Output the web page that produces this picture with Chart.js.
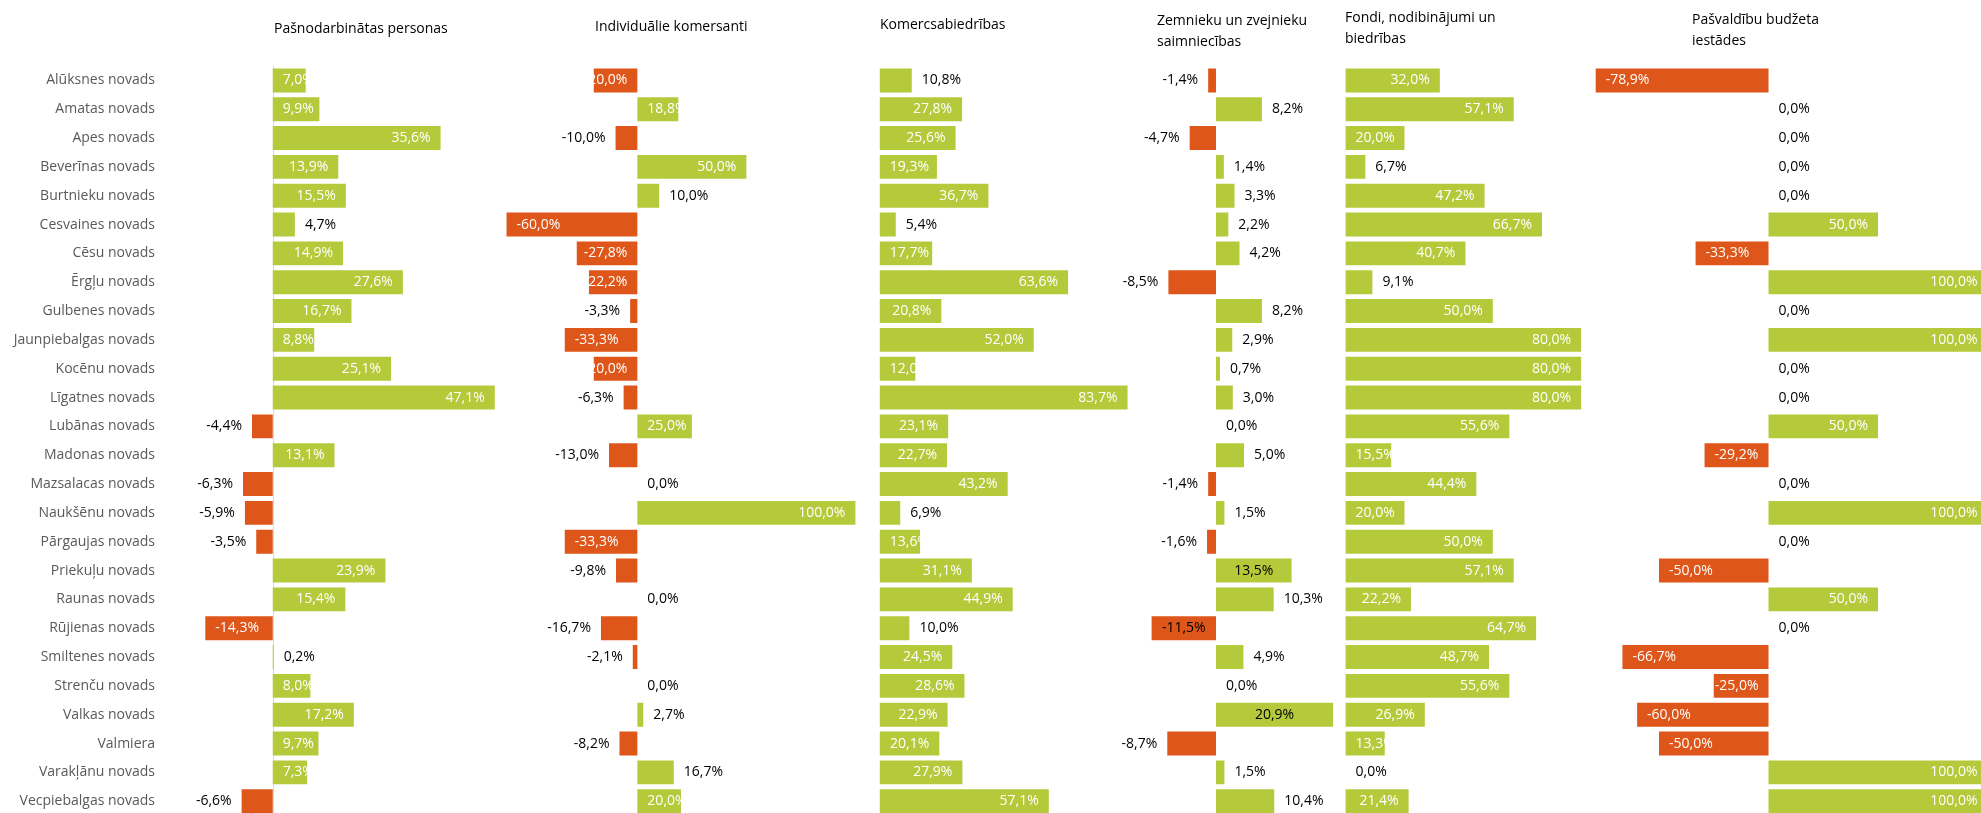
<!DOCTYPE html>
<html>
<head>
<meta charset="utf-8">
<title>Novadi</title>
<script src="https://cdn.jsdelivr.net/npm/chart.js@4.4.1/dist/chart.umd.min.js"></script>
<style>
  html, body { margin: 0; padding: 0; background: #ffffff; overflow: hidden; }
  #chart-container { position: relative; width: 2000px; height: 830px; }
  .panel-title {
    position: absolute;
    font-family: "Open Sans", sans-serif;
    font-size: 14px;
    line-height: 21px;
    color: #000000;
    white-space: nowrap;
  }
</style>
</head>
<body>
<div id="chart-container">
  <canvas id="myChart" width="2000" height="830"></canvas>
</div>
<script>
//--------------------- Data

var regions = ["Alūksnes novads", "Amatas novads", "Apes novads", "Beverīnas novads", "Burtnieku novads",
  "Cesvaines novads", "Cēsu novads", "Ērgļu novads", "Gulbenes novads", "Jaunpiebalgas novads",
  "Kocēnu novads", "Līgatnes novads", "Lubānas novads", "Madonas novads", "Mazsalacas novads",
  "Naukšēnu novads", "Pārgaujas novads", "Priekuļu novads", "Raunas novads", "Rūjienas novads",
  "Smiltenes novads", "Strenču novads", "Valkas novads", "Valmiera", "Varakļānu novads", "Vecpiebalgas novads"]

var panelTitles = [
  ["Pašnodarbinātas personas"],
  ["Individuālie komersanti"],
  ["Komercsabiedrības"],
  ["Zemnieku un zvejnieku", "saimniecības"],
  ["Fondi, nodibinājumi un", "biedrības"],
  ["Pašvaldību budžeta", "iestādes"]
]

var selfEmployed = [7.0, 9.9, 35.6, 13.9, 15.5, 4.7, 14.9, 27.6, 16.7, 8.8, 25.1, 47.1, -4.4,
  13.1, -6.3, -5.9, -3.5, 23.9, 15.4, -14.3, 0.2, 8.0, 17.2, 9.7, 7.3, -6.6]

var soleTraders = [-20.0, 18.8, -10.0, 50.0, 10.0, -60.0, -27.8, -22.2, -3.3, -33.3, -20.0, -6.3, 25.0,
  -13.0, 0.0, 100.0, -33.3, -9.8, 0.0, -16.7, -2.1, 0.0, 2.7, -8.2, 16.7, 20.0]

var companies = [10.8, 27.8, 25.6, 19.3, 36.7, 5.4, 17.7, 63.6, 20.8, 52.0, 12.0, 83.7, 23.1,
  22.7, 43.2, 6.9, 13.6, 31.1, 44.9, 10.0, 24.5, 28.6, 22.9, 20.1, 27.9, 57.1]

var farms = [-1.4, 8.2, -4.7, 1.4, 3.3, 2.2, 4.2, -8.5, 8.2, 2.9, 0.7, 3.0, 0.0,
  5.0, -1.4, 1.5, -1.6, 13.5, 10.3, -11.5, 4.9, 0.0, 20.9, -8.7, 1.5, 10.4]

var foundations = [32.0, 57.1, 20.0, 6.7, 47.2, 66.7, 40.7, 9.1, 50.0, 80.0, 80.0, 80.0, 55.6,
  15.5, 44.4, 20.0, 50.0, 57.1, 22.2, 64.7, 48.7, 55.6, 26.9, 13.3, 0.0, 21.4]

var municipal = [-78.9, 0.0, 0.0, 0.0, 0.0, 50.0, -33.3, 100.0, 0.0, 100.0, 0.0, 0.0, 50.0,
  -29.2, 0.0, 100.0, 0.0, -50.0, 50.0, 0.0, -66.7, -25.0, -60.0, -50.0, 100.0, 100.0]

var allSeries = [selfEmployed, soleTraders, companies, farms, foundations, municipal]

//--------------------- Look of each panel

var GREEN = "#b5ca3b"
var ORANGE = "#df561a"

//axis range, share of the width, where the value label goes, title placement
var panelStyles = [
  { min: -22, max: 48.2, weight: 331, insideFrom: 32, insideColor: "#ffffff", centered: false, titleLeft: 274, titleTop: 17 },
  { min: -63, max: 104.4, weight: 365, insideFrom: 37, insideColor: "#ffffff", centered: false, titleLeft: 595, titleTop: 15 },
  { min: -5, max: 85.2, weight: 267, insideFrom: 34, insideColor: "#ffffff", centered: false, titleLeft: 880, titleTop: 13 },
  { min: -15, max: 22.14, weight: 208, insideFrom: 60, insideColor: "#000000", centered: true, titleLeft: 1157, titleTop: 9 },
  { min: -1.9, max: 83, weight: 250, insideFrom: 34, insideColor: "#ffffff", centered: false, titleLeft: 1345, titleTop: 6 },
  { min: -81.5, max: 103.4, weight: 405, insideFrom: 30, insideColor: "#ffffff", centered: false, titleLeft: 1692, titleTop: 8 }
]

Chart.defaults.font.family = '"Open Sans", sans-serif'
Chart.defaults.font.size = 14

//--------------------- Titles above the panels

function createTitles() {
  var container = document.getElementById("chart-container")
  for (var i = 0; i < panelTitles.length; i++) {
    var title = document.createElement("div")
    title.classList.add("panel-title")
    title.style.left = panelStyles[i].titleLeft + "px"
    title.style.top = panelStyles[i].titleTop + "px"
    title.innerHTML = panelTitles[i].join("<br>")
    container.appendChild(title)
  }
}

//--------------------- Value labels like the spreadsheet ones

function formatValue(value) {
  return value.toFixed(1).replace(".", ",") + "%"
}

var valueLabels = {
  id: "valueLabels",
  beforeDatasetsDraw: function (chart) {
    //only the first panel shows its zero line
    var ctx = chart.ctx
    var x = Math.round(chart.scales.x1.getPixelForValue(0)) + 0.5
    ctx.save()
    ctx.strokeStyle = "#d9d9d9"
    ctx.lineWidth = 1
    ctx.beginPath()
    ctx.moveTo(x, chart.chartArea.top)
    ctx.lineTo(x, chart.chartArea.bottom)
    ctx.stroke()
    ctx.restore()
  },
  afterDatasetsDraw: function (chart) {
    var ctx = chart.ctx
    var pad = 10
    ctx.save()
    ctx.font = '14px "Open Sans", sans-serif'
    ctx.textBaseline = "middle"
    chart.data.datasets.forEach(function (dataset, d) {
      var meta = chart.getDatasetMeta(d)
      var style = panelStyles[d]
      meta.data.forEach(function (bar, i) {
        var value = dataset.data[i]
        var text = formatValue(value)
        var textWidth = ctx.measureText(text).width
        var length = Math.abs(bar.x - bar.base)
        var dir = value < 0 ? -1 : 1
        var x, align
        if (length >= style.insideFrom) {
          ctx.fillStyle = style.insideColor
          if (style.centered) {
            x = (bar.x + bar.base) / 2
            align = "center"
          } else if (length >= textWidth + 2 * pad) {
            x = bar.x - dir * pad
            align = dir > 0 ? "right" : "left"
          } else {
            x = bar.base + dir * pad
            align = dir > 0 ? "left" : "right"
          }
        } else {
          ctx.fillStyle = "#000000"
          x = bar.x + dir * pad
          align = dir > 0 ? "left" : "right"
        }
        ctx.textAlign = align
        ctx.fillText(text, x, bar.y)
      })
    })
    ctx.restore()
  }
}

//--------------------- Chart

function createGraph() {
  var datasets = []
  var scales = {
    y: {
      type: "category",
      position: "left",
      grid: { display: false },
      border: { display: false },
      ticks: { color: "#595959", padding: 6, autoSkip: false, font: { size: 14 } },
      afterFit: function (scale) {
        scale.width = 169
      }
    }
  }

  for (var i = 0; i < allSeries.length; i++) {
    var axisId = "x" + (i + 1)
    datasets.push({
      label: panelTitles[i].join(" "),
      data: allSeries[i],
      xAxisID: axisId,
      yAxisID: "y",
      grouped: false,
      barPercentage: 0.83,
      categoryPercentage: 1,
      borderWidth: 0,
      backgroundColor: function (context) {
        return context.raw < 0 ? ORANGE : GREEN
      }
    })
    scales[axisId] = {
      type: "linear",
      position: "bottom",
      stack: "panels",
      stackWeight: panelStyles[i].weight,
      min: panelStyles[i].min,
      max: panelStyles[i].max,
      display: false
    }
  }

  const ctx = document.getElementById("myChart")
  const myChart = new Chart(ctx, {
    type: "bar",
    data: {
      labels: regions,
      datasets: datasets
    },
    options: {
      indexAxis: "y",
      responsive: false,
      animation: false,
      layout: {
        padding: { top: 66, bottom: 12, left: 0, right: 5 }
      },
      scales: scales,
      plugins: {
        legend: { display: false },
        tooltip: { enabled: false }
      }
    },
    plugins: [valueLabels]
  })
}

createTitles()
createGraph()
</script>
</body>
</html>
